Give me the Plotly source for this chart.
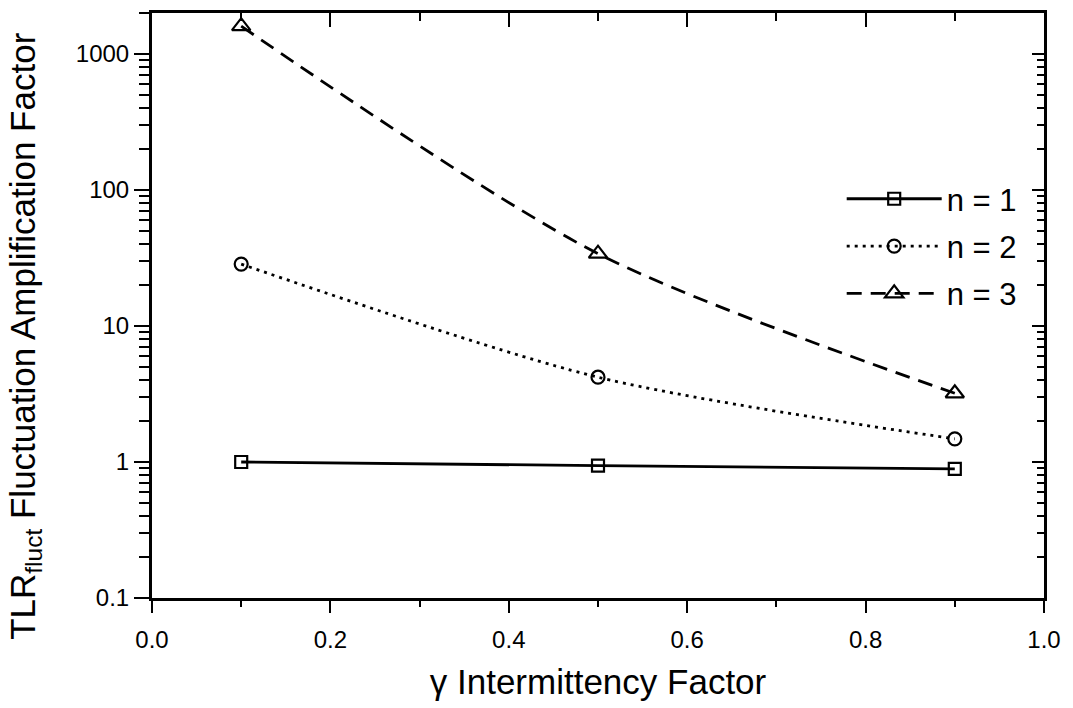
import plotly.graph_objects as go

# Intermittency factor and amplification factor for each exponent n
gamma = [0.1, 0.5, 0.9]
amp_n1 = [1.0, 0.94, 0.89]
amp_n2 = [28.5, 4.2, 1.48]
amp_n3 = [1600, 34, 3.2]

series = [
    ("n = 1", amp_n1, "solid", "square-open", 12),
    ("n = 2", amp_n2, "3px,5px", "circle-open", 13),
    ("n = 3", amp_n3, "15px,9px", "triangle-up-open", 16),
]

x_major = [0.0, 0.2, 0.4, 0.6, 0.8, 1.0]
x_labels = ["0.0", "0.2", "0.4", "0.6", "0.8", "1.0"]
x_minor = [0.1, 0.3, 0.5, 0.7, 0.9]
y_major = [0.1, 1, 10, 100, 1000]
y_labels = ["0.1", "1", "10", "100", "1000"]
y_minor = [m * 10 ** e for e in range(-1, 4) for m in range(2, 10)]

FONT = "Liberation Sans, Arial, Helvetica, sans-serif"

fig = go.Figure()
for name, vals, dash, sym, size in series:
    fig.add_trace(go.Scatter(
        x=gamma, y=vals, name=name, legendgroup=name, mode="lines+markers",
        line=dict(color="black", width=2.8, dash=dash, shape="spline", smoothing=0.8),
        marker=dict(symbol=sym, size=size, color="black", line=dict(width=2.2, color="black")),
    ))

# Overlay axes carry the inward-pointing ticks on the top and right edges
fig.add_trace(go.Scatter(x=[None], y=[None], xaxis="x2", yaxis="y2",
                         showlegend=False, hoverinfo="skip"))

yr = [-1, 3.301]
tick = dict(tickwidth=2.2, tickcolor="black")
frame = dict(showline=True, linewidth=3, linecolor="black", showgrid=False, zeroline=False)

fig.update_layout(
    width=1073, height=708,
    margin=dict(l=152, r=23, t=13, b=110),
    paper_bgcolor="white", plot_bgcolor="white",
    font=dict(family=FONT, color="black", size=24),
    showlegend=True,
    legend=dict(x=0.975, y=0.728, xanchor="right", yanchor="top",
                bgcolor="rgba(0,0,0,0)", font=dict(size=31, family=FONT),
                itemwidth=95, tracegroupgap=4),
    xaxis=dict(range=[0, 1], tickmode="array", tickvals=x_major, ticktext=x_labels,
               ticks="outside", ticklen=12, ticklabelstandoff=6, **tick,
               minor=dict(tickvals=x_minor, ticks="outside", ticklen=6, showgrid=False, **tick),
               **frame, tickfont=dict(size=24),
               title=dict(text="γ Intermittency Factor", font=dict(size=35), standoff=18)),
    yaxis=dict(type="log", range=yr, tickmode="array", tickvals=y_major, ticktext=y_labels,
               ticks="outside", ticklen=15, **tick,
               minor=dict(tickvals=y_minor, ticks="outside", ticklen=10, showgrid=False, **tick),
               **frame, tickfont=dict(size=24)),
    xaxis2=dict(overlaying="x", side="top", range=[0, 1], tickmode="array",
                tickvals=x_major, showticklabels=False, ticks="inside", ticklen=14, **tick,
                minor=dict(tickvals=x_minor, ticks="inside", ticklen=8, showgrid=False, **tick),
                **frame),
    yaxis2=dict(overlaying="y", side="right", type="log", range=yr, tickmode="array",
                tickvals=y_major, showticklabels=False, ticks="inside", ticklen=12, **tick,
                minor=dict(tickvals=y_minor, ticks="inside", ticklen=7, showgrid=False, **tick),
                **frame),
    annotations=[dict(
        text="TLR<sub>fluct</sub> Fluctuation Amplification Factor",
        xref="paper", yref="paper", x=-0.1425, y=0.448, textangle=-90,
        xanchor="center", yanchor="middle", showarrow=False,
        font=dict(size=35, family=FONT),
    )],
)

fig.write_html("out.html")
